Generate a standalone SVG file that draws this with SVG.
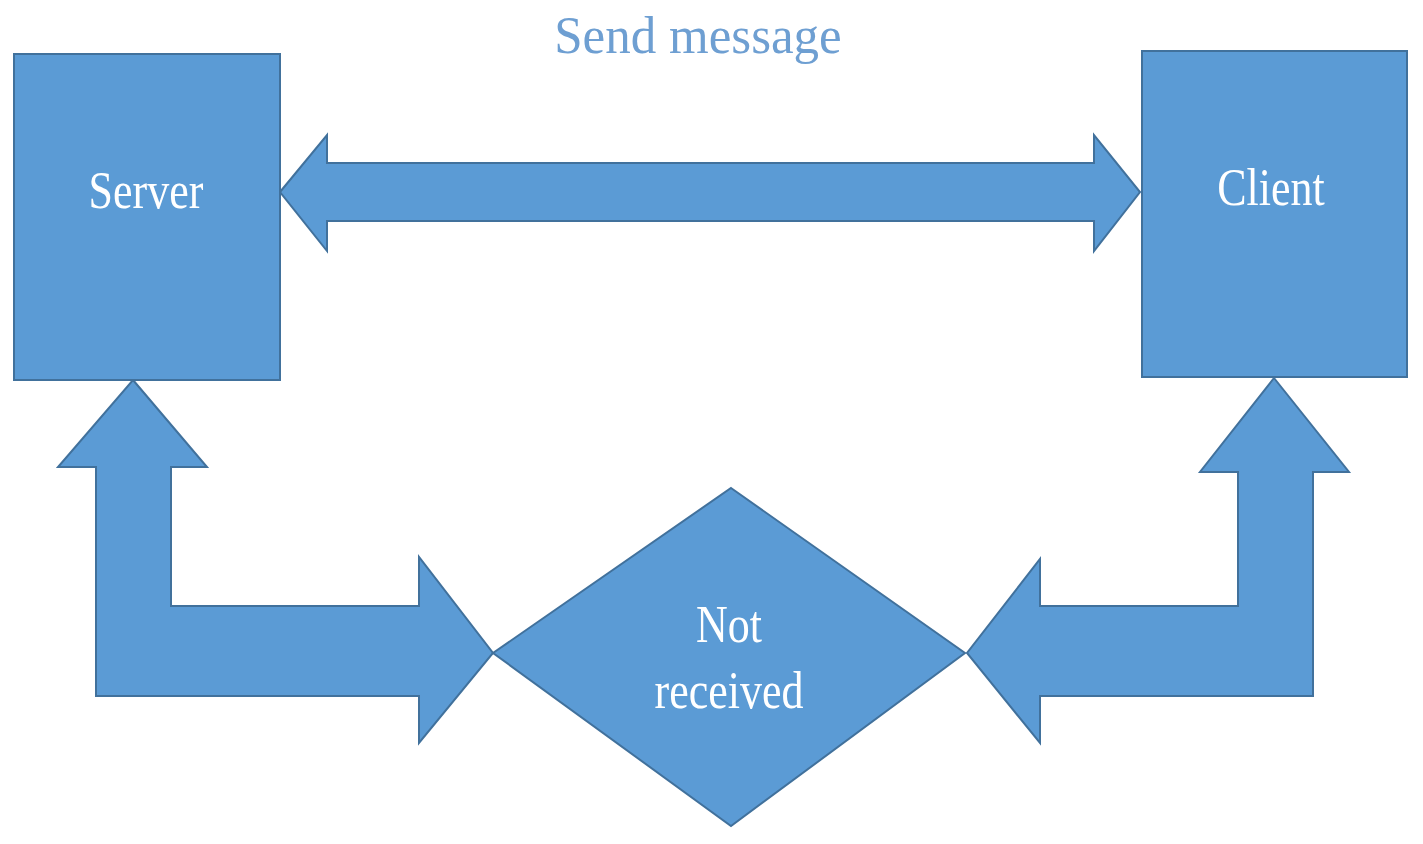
<svg xmlns="http://www.w3.org/2000/svg" width="1423" height="844" viewBox="0 0 1423 844">
<style>
.shape{fill:#5b9bd5;stroke:#41719c;stroke-width:2;stroke-linejoin:miter}
.lbl{font-family:"Liberation Serif","Times New Roman",serif;fill:#ffffff;text-anchor:middle}
.title{font-family:"Liberation Serif","Times New Roman",serif;fill:#6e9fd2;text-anchor:middle}
</style>
<rect width="1423" height="844" fill="#ffffff"/>
<text class="title" font-size="51" transform="translate(698,53) scale(1,1.05)">Send message</text>
<g id="connectors">
<polygon id="send-arrow" class="shape" points="280,192 327,135 327,163 1094,163 1094,135 1140,192 1094,251 1094,221 327,221 327,251"/>
<polygon id="server-loop" class="shape" points="133,380 207,467 171,467 171,606 419,606 419,557 493,653 419,743 419,696 96,696 96,467 58,467"/>
<polygon id="client-loop" class="shape" points="1274,378 1349,472 1313,472 1313,696 1040,696 1040,743 967,653 1040,559 1040,606 1238,606 1238,472 1200,472"/>
</g>
<g id="server">
<rect class="shape" x="14" y="54" width="266" height="326"/>
<text class="lbl" font-size="44" transform="translate(146,208) scale(1,1.2)">Server</text>
</g>
<g id="client">
<rect class="shape" x="1142" y="51" width="265" height="326"/>
<text class="lbl" font-size="44" transform="translate(1271,205) scale(1,1.2)">Client</text>
</g>
<g id="not-received">
<polygon class="shape" points="731,488 965,653 731,826 493,653"/>
<text class="lbl" font-size="44" transform="translate(729,642) scale(1,1.2)">Not</text>
<text class="lbl" font-size="44" transform="translate(729,708) scale(1,1.2)">received</text>
</g>
</svg>
